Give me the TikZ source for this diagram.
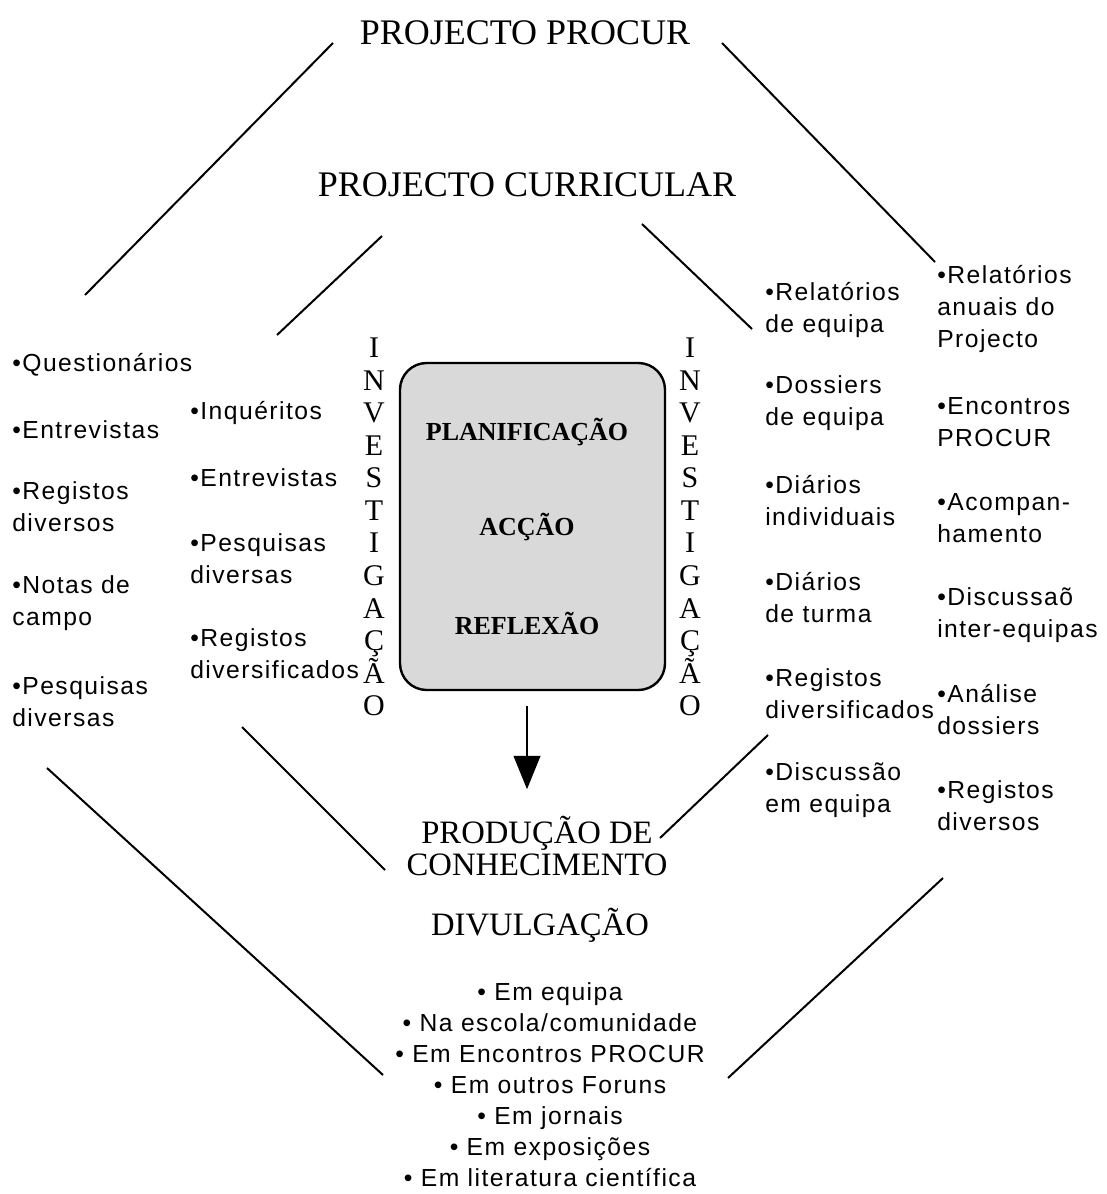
\documentclass[tikz,border=0pt]{standalone}
\usepackage{fontspec}
\setmainfont{Liberation Serif}
\newfontfamily\listfont{Liberation Sans}[LetterSpace=6]
\usetikzlibrary{arrows.meta,positioning}

\tikzset{
  item/.style={anchor=west,align=left,inner sep=0pt,font=\listfont\fontsize{18.5}{24}\selectfont},
  titulo/.style={inner sep=0pt,align=center,font=\fontsize{27}{24}\selectfont},
  etapa/.style={inner sep=0pt,font=\bfseries\fontsize{19.5}{24}\selectfont},
  vertical/.style={inner sep=0pt,align=center,font=\fontsize{22.5}{24.4}\selectfont},
  traco/.style={line width=1.5pt}
}

\begin{document}
\begin{tikzpicture}[x=0.75pt,y=-0.75pt]
\useasboundingbox (0,0) rectangle (1106,1194);

% titulos
\node[titulo] (procur) at (525,33) {PROJECTO PROCUR};
\node[titulo] (curric) at (527,185) {PROJECTO CURRICULAR};

% octogono exterior
\draw[traco] (333,43) -- (85,295);
\draw[traco] (722,43) -- (935,262);
\draw[traco] (47,768) -- (383,1075);
\draw[traco] (728,1078) -- (943,878);

% octogono interior
\draw[traco] (382,236) -- (277,335);
\draw[traco] (642,224) -- (752,329);
\draw[traco] (242,727) -- (385,870);
\draw[traco] (768,735) -- (660,838);

% caixa central
\node[draw,line width=1.8pt,rounded corners=20pt,fill=gray!30,
      minimum width=265*0.75pt,minimum height=327*0.75pt] (caixa) at (532.5,526.5) {};
\node[etapa] (plan) at (527,432) {PLANIFICAÇÃO};
\node[etapa] (accao) at (527,527) {ACÇÃO};
\node[etapa] (refl) at (527,623) {REFLEXÃO};

\node[vertical] (invL) at (374,527) {I\\N\\V\\E\\S\\T\\I\\G\\A\\Ç\\Ã\\O};
\node[vertical] (invR) at (690,527) {I\\N\\V\\E\\S\\T\\I\\G\\A\\Ç\\Ã\\O};

% producao
\node[titulo,font=\fontsize{24.5}{24}\selectfont] (prod) at (537,846) {PRODUÇÃO DE\\CONHECIMENTO};
\node[titulo,font=\fontsize{24.5}{24}\selectfont] (divul) at (540,925) {DIVULGAÇÃO};
\draw[line width=1.5pt,-{Triangle[length=25pt,width=20pt]}] ([xshift=-5.5*0.75pt,yshift=-15*0.75pt]caixa.south) -- ++(0,-83*0.75pt);

% lista exterior esquerda
\node[item] (q1) at (12,365) {•Questionários};
\node[item] (q2) at (12,430) {•Entrevistas};
\node[item] (q3) at (12,507) {•Registos\\diversos};
\node[item] (q4) at (12,603) {•Notas de\\campo};
\node[item] (q5) at (12,702) {•Pesquisas\\diversas};

% lista interior esquerda
\node[item] (i1) at (190,413) {•Inquéritos};
\node[item] (i2) at (190,478) {•Entrevistas};
\node[item] (i3) at (190,559) {•Pesquisas\\diversas};
\node[item] (i4) at (190,654) {•Registos\\diversificados};

% lista interior direita
\node[item] (r1) at (765,310) {•Relatórios\\de equipa};
\node[item] (r2) at (765,403) {•Dossiers\\de equipa};
\node[item] (r3) at (765,501) {•Diários\\individuais};
\node[item] (r4) at (765,598) {•Diários\\de turma};
\node[item] (r5) at (765,694) {•Registos\\diversificados};
\node[item] (r6) at (765,790) {•Discussão\\em equipa};

% lista exterior direita
\node[item] (e1) at (937,309) {•Relatórios\\anuais do\\Projecto};
\node[item] (e2) at (937,422) {•Encontros\\PROCUR};
\node[item] (e3) at (937,518) {•Acompan-\\hamento};
\node[item] (e4) at (937,615) {•Discussaõ\\inter-equipas};
\node[item] (e5) at (937,710) {•Análise\\dossiers};
\node[item] (e6) at (937,806) {•Registos\\diversos};

% divulgacao
\node[item,anchor=center,align=center,font=\listfont\fontsize{18.5}{23.25}\selectfont] (lista) at (550,1085)
  {• Em equipa\\• Na escola/comunidade\\• Em Encontros PROCUR\\• Em outros Foruns\\• Em jornais\\• Em exposições\\• Em literatura científica};
\end{tikzpicture}
\end{document}
